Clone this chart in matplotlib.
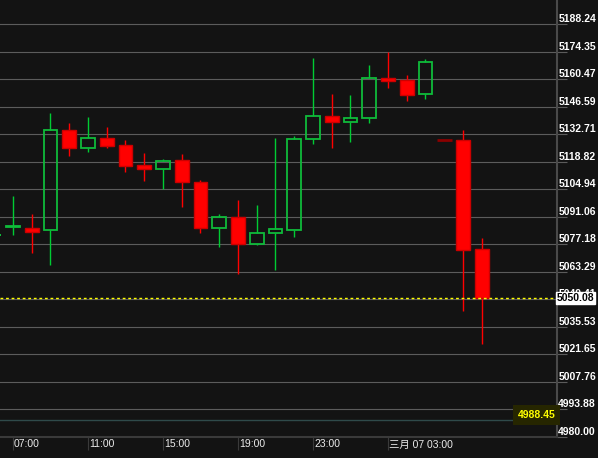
import matplotlib
matplotlib.use("Agg")
import matplotlib.pyplot as plt
import matplotlib.transforms as mtransforms
import numpy as np

plt.rcParams['font.family'] = ['Liberation Sans', 'Noto Sans CJK SC', 'DejaVu Sans']

# === CANDLE DATA (hourly, index 0 = 07:00) ===
hours = list(range(-1, 26))
opens = [5081.6, 5086.1, 5085.5, 5084.3, 5134.8, 5125.9, 5130.9, 5127.4, 5117.3,
         5115.4, 5119.8, 5108.7, 5085.4, 5091.1, 5077.4, 5082.9, 5084.3, 5130.1,
         5141.8, 5139.0, 5140.7, 5161.3, 5160.1, 5153.2, 5129.8, 5129.8, 5075.0]
highs = [5083.0, 5101.5, 5092.6, 5143.6, 5138.5, 5141.5, 5136.5, 5129.9, 5123.4,
         5120.3, 5122.9, 5109.4, 5092.6, 5099.6, 5096.8, 5130.9, 5131.9, 5171.2,
         5153.0, 5152.5, 5167.6, 5174.4, 5162.7, 5170.8, 5129.8, 5135.1, 5080.1]
lows = [5080.0, 5081.7, 5072.8, 5066.5, 5121.7, 5123.7, 5125.9, 5113.9, 5108.9,
        5104.9, 5096.1, 5082.9, 5076.0, 5062.4, 5076.9, 5064.4, 5080.9, 5127.9,
        5125.9, 5128.9, 5138.5, 5156.3, 5149.6, 5150.6, 5129.8, 5043.5, 5027.0]
closes = [5081.8, 5086.3, 5083.6, 5134.8, 5125.9, 5130.7, 5126.7, 5116.8, 5115.3,
          5119.3, 5108.4, 5085.4, 5090.9, 5077.4, 5082.8, 5084.9, 5130.2, 5141.8,
          5139.0, 5140.8, 5161.1, 5159.8, 5152.5, 5169.2, 5129.8, 5074.1, 5050.08]

tick_pos = [0, 4, 8, 12, 16, 20]
tick_labels = ["07:00", "11:00", "15:00", "19:00", "23:00", "三月 07 03:00"]

y_min, y_step = 4980.0, 13.88249
y_ticks = [y_min + k * y_step for k in range(16)]

last_price = 5050.08
low_mark = 4988.45

BG = "#131313"
GRID = "#5c5c5c"
UP = "#00cc33"
UP_EDGE = "#0fbb3a"
DOWN = "#ff0000"
DOWN_EDGE = "#cc0000"
FLAT = "#8b0000"

fig = plt.figure(figsize=(5.98, 4.58), dpi=100, facecolor=BG)
ax = fig.add_axes([0, 21.3 / 458, 556.7 / 598, 436.7 / 458], facecolor=BG)

x = np.array(hours, dtype=float)
o = np.array(opens)
h = np.array(highs)
l = np.array(lows)
c = np.array(closes)
top = np.maximum(o, c)
bot = np.minimum(o, c)

for i in range(len(x)):
    if h[i] == l[i]:
        # flat bar (no trading)
        ax.bar(x[i], 0.01, bottom=o[i], width=0.8, color=FLAT, edgecolor=FLAT,
               linewidth=2.0, zorder=3)
        continue
    up = c[i] >= o[i]
    col = UP if up else DOWN
    ax.vlines(x[i], top[i], h[i], color=col, linewidth=1.0, zorder=2)
    ax.vlines(x[i], l[i], bot[i], color=col, linewidth=1.0, zorder=2)
    height = max(top[i] - bot[i], 0.3)
    if up:
        ax.bar(x[i], height, bottom=bot[i], width=0.73, facecolor="none",
               edgecolor=UP_EDGE, linewidth=1.3, zorder=3)
    else:
        ax.bar(x[i], height, bottom=bot[i], width=0.73, facecolor=DOWN,
               edgecolor=DOWN_EDGE, linewidth=1.0, zorder=3)

# current price line + marker
ax.axhline(last_price, color="#ffff00", linewidth=1.0, linestyle=(0, (2, 2)), zorder=4)
ax.text(1.0, last_price, f"{last_price:.2f}", transform=ax.get_yaxis_transform(),
        ha="left", va="center", color="black", fontsize=7.5, fontweight="bold",
        clip_on=False, zorder=6,
        bbox=dict(boxstyle="square,pad=0.1", facecolor="white", edgecolor="white"))

# low marker
ax.axhline(low_mark, color="#2f4a4a", linewidth=1.0, zorder=1)
ax.text(0.998, low_mark + 2.5, f"{low_mark:.2f}", transform=ax.get_yaxis_transform(),
        ha="right", va="center", color="#ffff00", fontsize=7.5, fontweight="bold",
        zorder=6, clip_on=False,
        bbox=dict(boxstyle="square,pad=0.45", facecolor="#262600", edgecolor="none"))

ax.set_xlim(-0.693, 29.0)
ax.set_ylim(4980.0, 5200.5)

# y axis on the right
ax.yaxis.tick_right()
ax.set_yticks(y_ticks)
ax.set_yticklabels([f"{v:.2f}" for v in y_ticks])
ax.tick_params(axis="y", direction="out", length=7.2, width=0.8, color=GRID,
               pad=-6.0, labelsize=7.5, labelcolor="white")
for lbl in ax.get_yticklabels():
    lbl.set_verticalalignment("bottom")
    lbl.set_fontweight("bold")
ax.grid(axis="y", color=GRID, linewidth=0.8, zorder=0)
ax.set_axisbelow(True)

# x axis
ax.set_xticks(tick_pos)
ax.set_xticklabels(tick_labels)
ax.tick_params(axis="x", direction="out", length=9, width=0.8, color="#3a3a3a",
               pad=-7.0, labelsize=7.5, labelcolor="#ececec")
shift = mtransforms.ScaledTranslation(1 / 100, 0, fig.dpi_scale_trans)
for lbl in ax.get_xticklabels():
    lbl.set_horizontalalignment("left")
    lbl.set_transform(lbl.get_transform() + shift)

for side in ["top", "left"]:
    ax.spines[side].set_visible(False)
ax.spines["right"].set_color("#4a4a4a")
ax.spines["right"].set_linewidth(1.5)
ax.spines["bottom"].set_color("#3a3a3a")
ax.spines["bottom"].set_linewidth(1.5)

fig.savefig("out.png", dpi=100, facecolor=BG)
